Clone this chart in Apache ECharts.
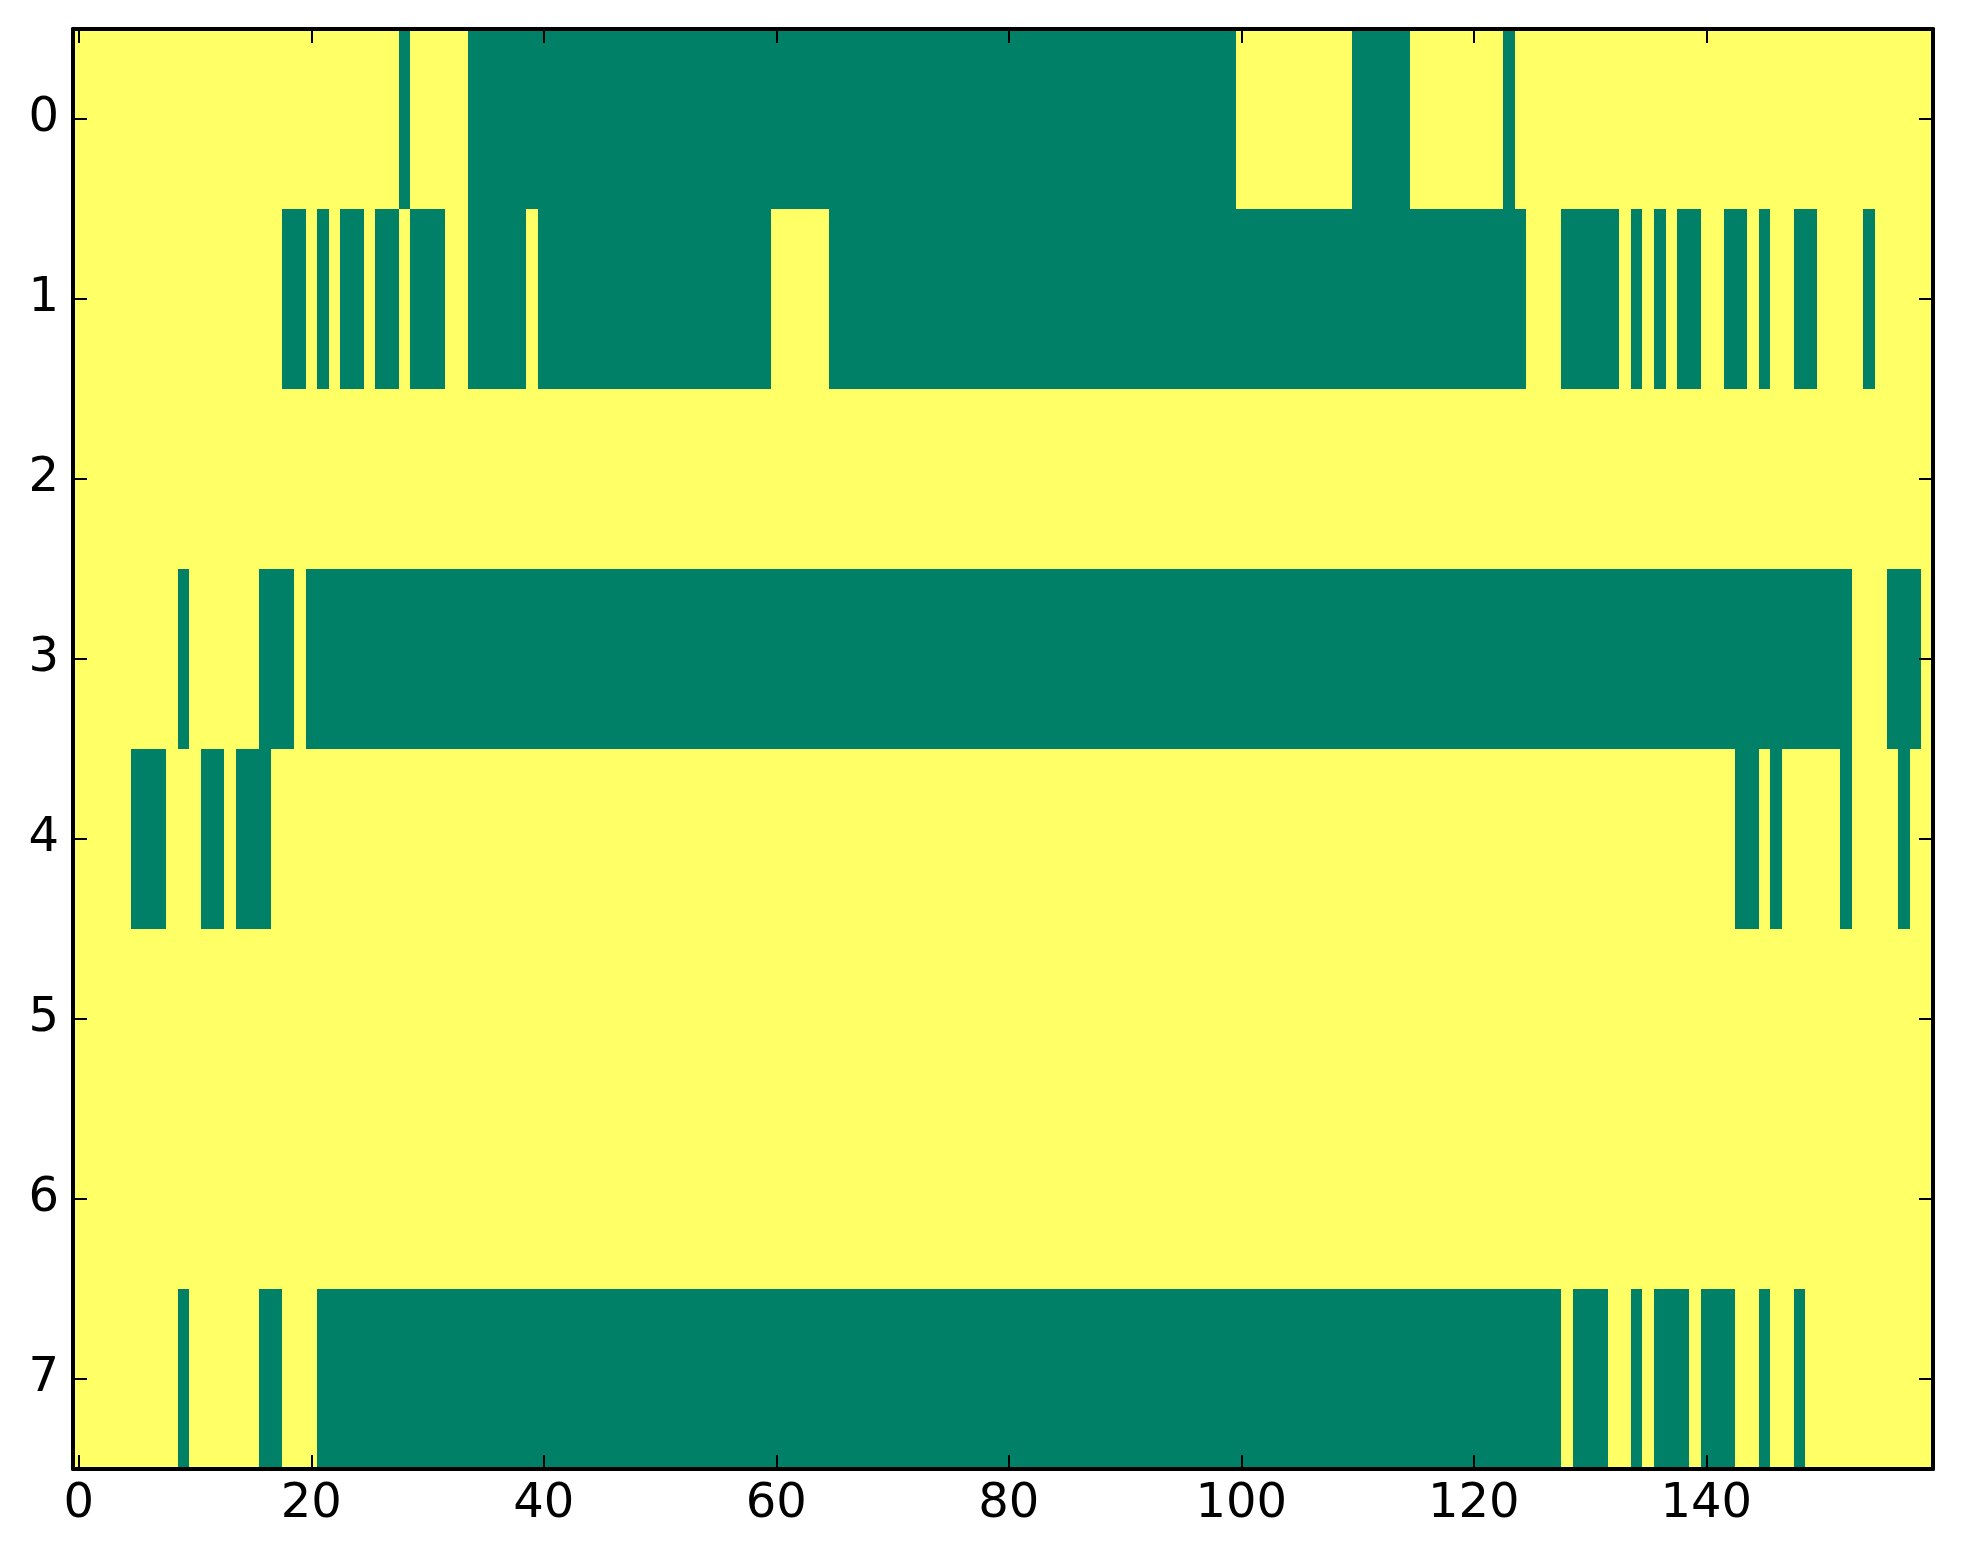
<!DOCTYPE html>
<html>
<head>
<meta charset="utf-8">
<script src="https://cdn.jsdelivr.net/npm/echarts@6/dist/echarts.min.js"></script>
<style>
html,body{margin:0;padding:0;background:#fff;}
#chart{width:1963px;height:1564px;}
</style>
</head>
<body>
<div id="chart"></div>
<script>
// Binary matrix, 8 rows x 160 columns; 0 = green (low), 1 = yellow (high).
// Each row is written in groups of 10 columns.
const row0 = "1111111111 1111111111 1111111101 1111000000 0000000000 0000000000 0000000000 0000000000 0000000000 0000000000 1111111111 0000011111 1110111111 1111111111 1111111111 1111111111";
const row1 = "1111111111 1111111100 1010010010 0011000001 0000000000 0000000000 1111100000 0000000000 0000000000 0000000000 0000000000 0000000000 0000011100 0001010100 1100101100 1111011111";
const row2 = "1111111111 1111111111 1111111111 1111111111 1111111111 1111111111 1111111111 1111111111 1111111111 1111111111 1111111111 1111111111 1111111111 1111111111 1111111111 1111111111";
const row3 = "1111111110 1111110001 0000000000 0000000000 0000000000 0000000000 0000000000 0000000000 0000000000 0000000000 0000000000 0000000000 0000000000 0000000000 0000000000 0001110001";
const row4 = "1111100011 1001000111 1111111111 1111111111 1111111111 1111111111 1111111111 1111111111 1111111111 1111111111 1111111111 1111111111 1111111111 1111111111 1110010111 1101111011";
const row5 = "1111111111 1111111111 1111111111 1111111111 1111111111 1111111111 1111111111 1111111111 1111111111 1111111111 1111111111 1111111111 1111111111 1111111111 1111111111 1111111111";
const row6 = "1111111111 1111111111 1111111111 1111111111 1111111111 1111111111 1111111111 1111111111 1111111111 1111111111 1111111111 1111111111 1111111111 1111111111 1111111111 1111111111";
const row7 = "1111111110 1111110011 1000000000 0000000000 0000000000 0000000000 0000000000 0000000000 0000000000 0000000000 0000000000 0000000000 0000000010 0011010001 0001101101 1111111111";

const rows = [row0, row1, row2, row3, row4, row5, row6, row7];
const rowLabels = ["0", "1", "2", "3", "4", "5", "6", "7"];
const xTickLabels = [0, 20, 40, 60, 80, 100, 120, 140];
const nCols = 160;
const colLabels = Array.from({length: nCols}, (_, i) => String(i));

const cells = [];
rows.forEach((r, y) => {
  const vals = r.replace(/ /g, "").split("").map(Number);
  vals.forEach((v, x) => cells.push([x, y, v]));
});

const FONT = "DejaVu Sans";
const showX = (i) => xTickLabels.indexOf(i) >= 0;
const lineStyle = {color: "#000", width: 4};
const tickStyle = {color: "#000", width: 2};

function renderCell(params, api) {
  const p = api.coord([api.value(0), api.value(1)]);
  const s = api.size([1, 1]);
  const x0 = Math.round(p[0] - s[0] / 2), x1 = Math.round(p[0] + s[0] / 2);
  const y0 = Math.round(p[1] - s[1] / 2), y1 = Math.round(p[1] + s[1] / 2);
  return {
    type: "rect",
    shape: {x: x0, y: y0, width: x1 - x0, height: y1 - y0},
    style: {fill: api.visual("color")}
  };
}

const chart = echarts.init(document.getElementById("chart"), null, {renderer: "canvas"});
chart.setOption({
  animation: false,
  backgroundColor: "#fff",
  grid: {left: 73, right: 30, top: 29, bottom: 95, containLabel: false},
  xAxis: [
    {
      type: "category", data: colLabels, position: "bottom", z: 10,
      axisLine: {show: true, onZero: false, lineStyle: lineStyle},
      axisTick: {show: true, inside: true, length: 14, alignWithLabel: true, interval: showX, lineStyle: tickStyle},
      axisLabel: {show: true, interval: showX, color: "#000", fontFamily: FONT, fontSize: 48, margin: 12},
      splitLine: {show: false}
    },
    {
      type: "category", data: colLabels, position: "top", z: 10,
      axisLine: {show: true, onZero: false, lineStyle: lineStyle},
      axisTick: {show: true, inside: true, length: 14, alignWithLabel: true, interval: showX, lineStyle: tickStyle},
      axisLabel: {show: false},
      splitLine: {show: false}
    }
  ],
  yAxis: [
    {
      type: "category", data: rowLabels, inverse: true, position: "left", z: 10,
      axisLine: {show: true, onZero: false, lineStyle: lineStyle},
      axisTick: {show: true, inside: true, length: 14, alignWithLabel: true, interval: 0, lineStyle: tickStyle},
      axisLabel: {show: true, interval: 0, color: "#000", fontFamily: FONT, fontSize: 48, margin: 14},
      splitLine: {show: false}
    },
    {
      type: "category", data: rowLabels, inverse: true, position: "right", z: 10,
      axisLine: {show: true, onZero: false, lineStyle: lineStyle},
      axisTick: {show: true, inside: true, length: 14, alignWithLabel: true, interval: 0, lineStyle: tickStyle},
      axisLabel: {show: false},
      splitLine: {show: false}
    }
  ],
  visualMap: {
    show: false, type: "continuous", min: 0, max: 1, dimension: 2, seriesIndex: 0,
    inRange: {color: ["#008066", "#ffff66"]}
  },
  series: [{
    type: "custom", xAxisIndex: 0, yAxisIndex: 0, data: cells,
    encode: {x: 0, y: 1},
    renderItem: renderCell,
    silent: true
  }]
});
</script>
</body>
</html>
